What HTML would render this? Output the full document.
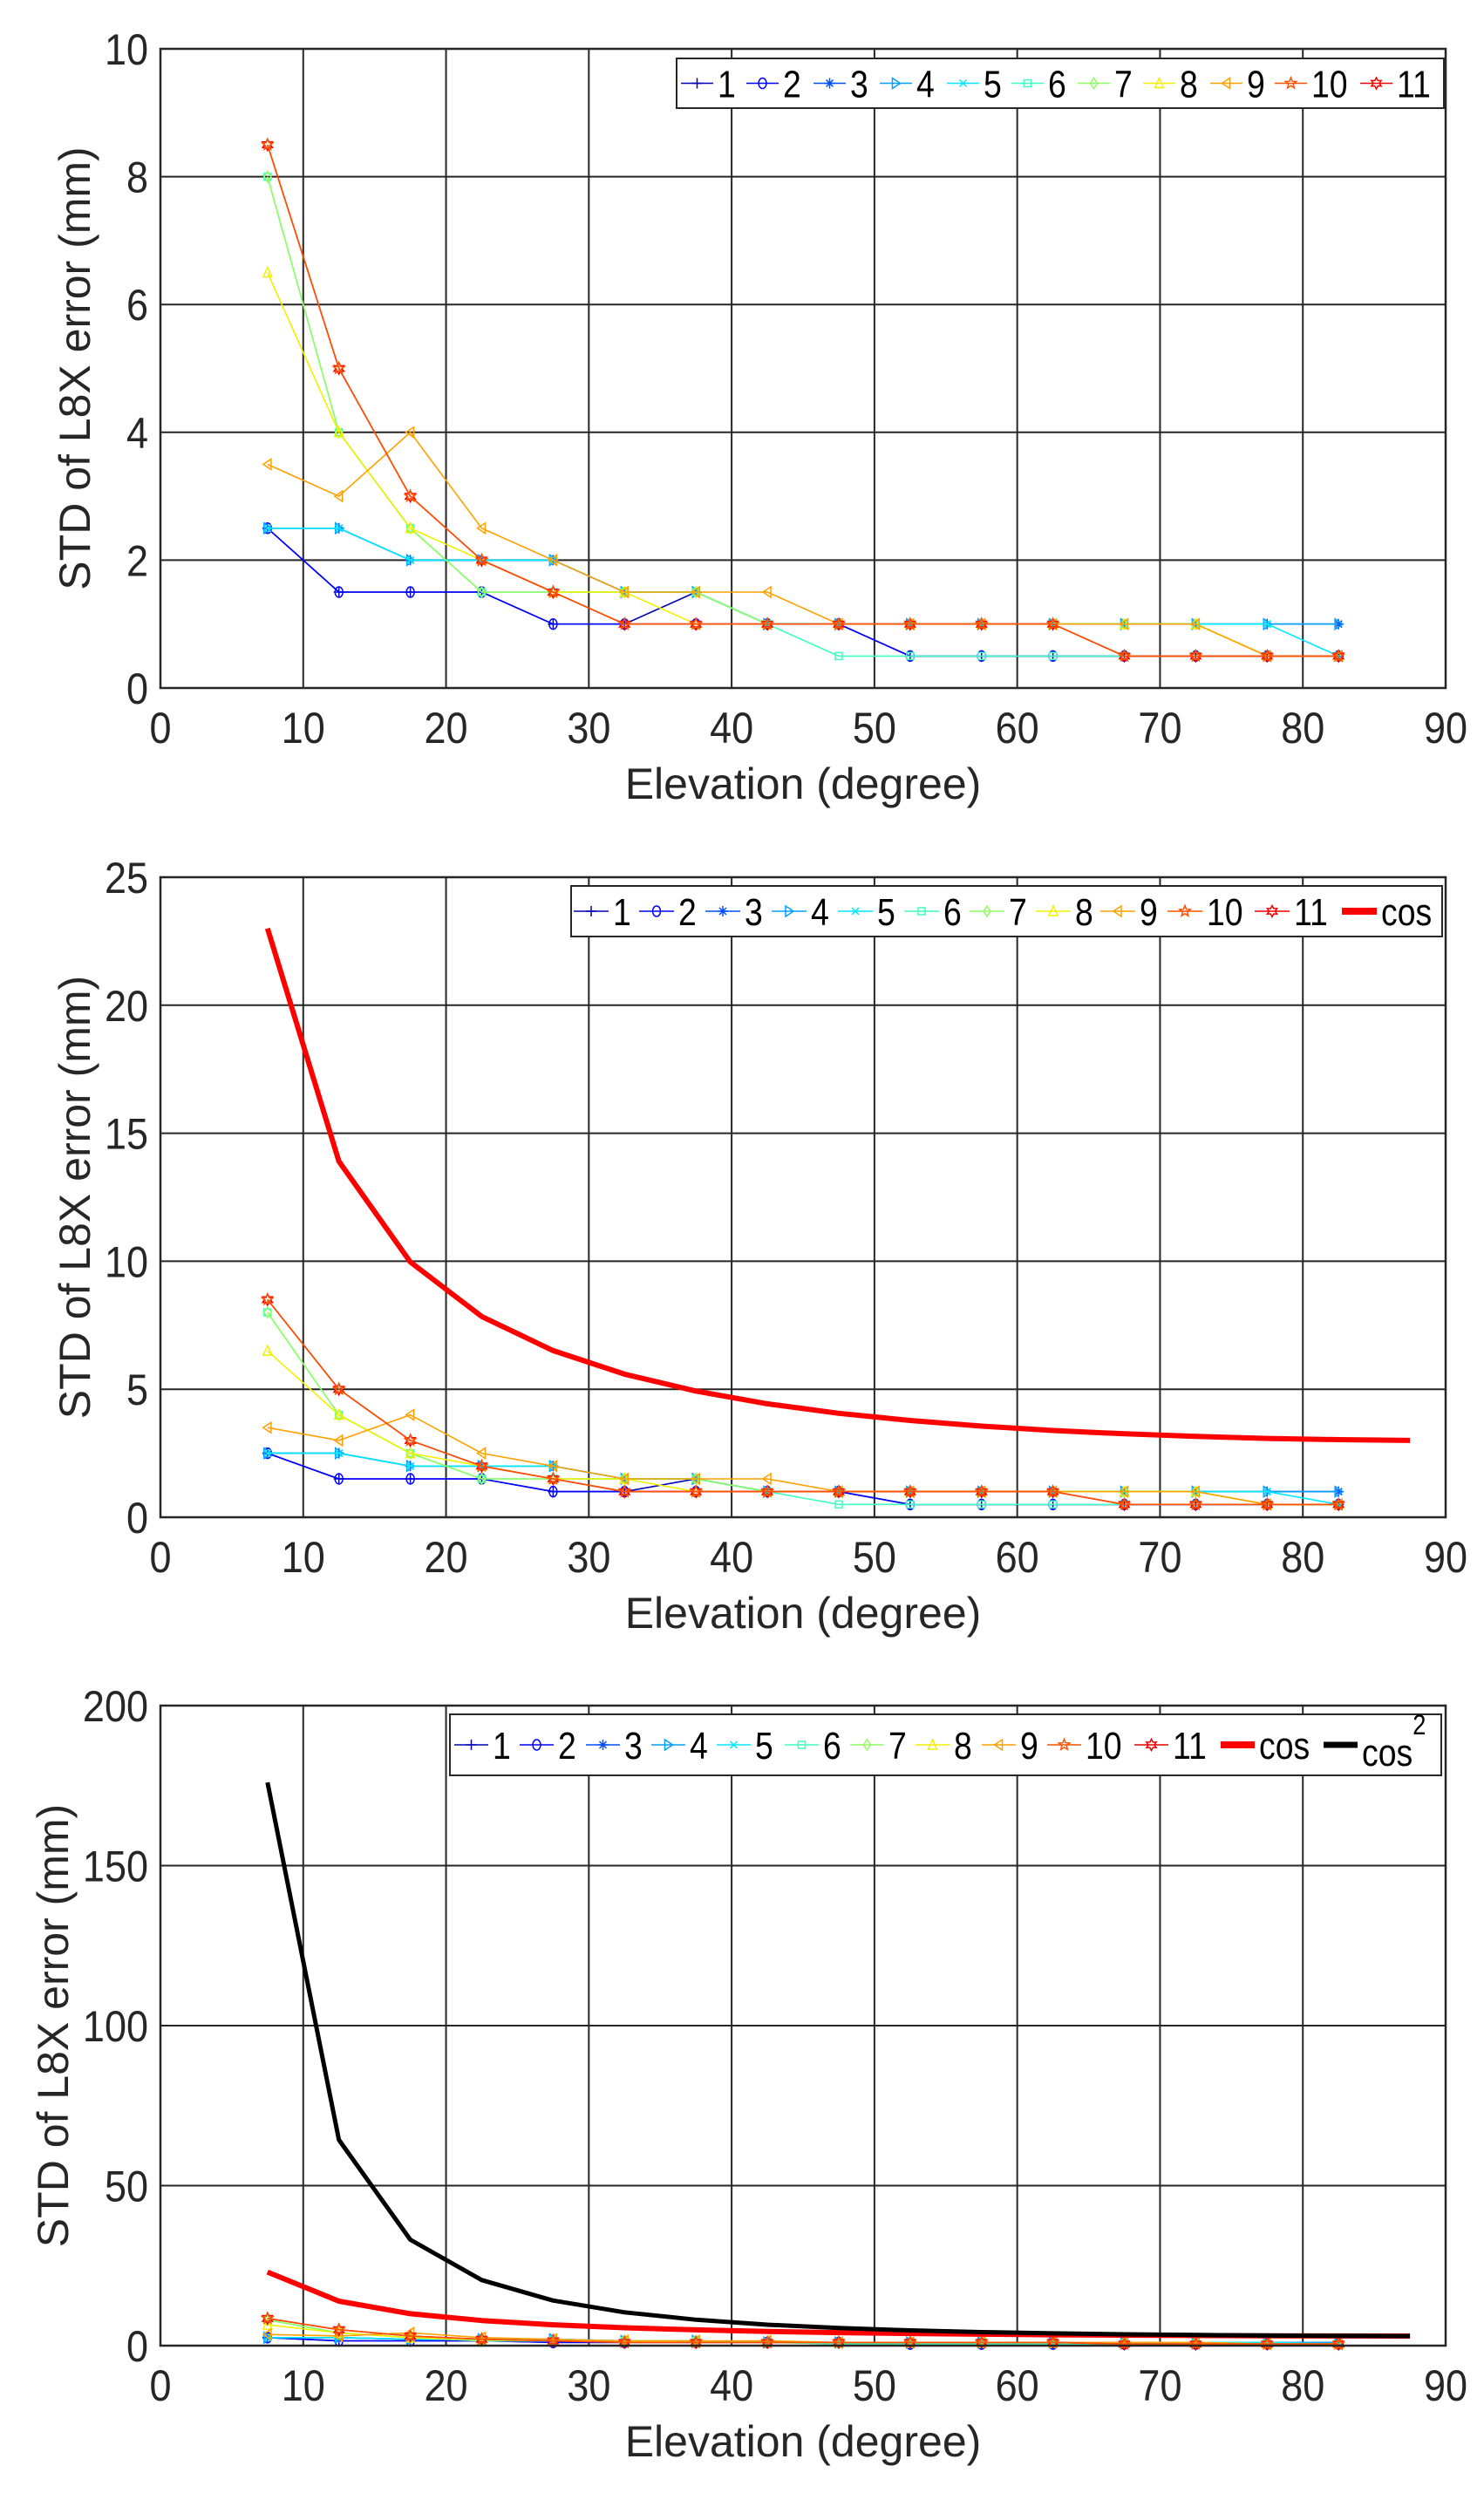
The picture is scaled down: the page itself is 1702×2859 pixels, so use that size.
<!DOCTYPE html>
<html><head><meta charset="utf-8"><title>STD of L8X error vs Elevation</title>
<style>
html,body{margin:0;padding:0;background:#fff;}
svg{display:block;font-family:"Liberation Sans",Arial,sans-serif;}
</style></head>
<body>
<svg id="fig" width="1702" height="2859" viewBox="0 0 1702 2859" xmlns="http://www.w3.org/2000/svg"></svg>
<script>
// ---- data ----
const elevations = [7.5,12.5,17.5,22.5,27.5,32.5,37.5,42.5,47.5,52.5,57.5,62.5,67.5,72.5,77.5,82.5];
const s1  = [2.5,1.5,1.5,1.5,1,1,1.5,1,1,0.5,0.5,0.5,0.5,0.5,0.5,0.5];
const s2  = [2.5,1.5,1.5,1.5,1,1,1,1,1,0.5,0.5,0.5,0.5,0.5,0.5,0.5];
const s3  = [2.5,2.5,2,2,2,1.5,1.5,1,1,1,1,1,1,1,1,1];
const s4  = [2.5,2.5,2,2,2,1.5,1.5,1,1,1,1,1,1,1,1,1];
const s5  = [2.5,2.5,2,2,2,1.5,1.5,1,1,1,1,1,1,1,1,0.5];
const s6  = [8,4,2.5,1.5,1.5,1.5,1.5,1,0.5,0.5,0.5,0.5,0.5,0.5,0.5,0.5];
const s7  = [8,4,2.5,1.5,1.5,1.5,1.5,1,1,1,1,1,1,1,0.5,0.5];
const s8  = [6.5,4,2.5,2,1.5,1.5,1,1,1,1,1,1,1,1,0.5,0.5];
const s9  = [3.5,3,4,2.5,2,1.5,1.5,1.5,1,1,1,1,1,1,0.5,0.5];
const s10 = [8.5,5,3,2,1.5,1,1,1,1,1,1,1,0.5,0.5,0.5,0.5];
const s11 = [8.5,5,3,2,1.5,1,1,1,1,1,1,1,0.5,0.5,0.5,0.5];
const seriesNames = ["1","2","3","4","5","6","7","8","9","10","11"];
const modelElev = [7.5,12.5,17.5,22.5,27.5,32.5,37.5,42.5,47.5,52.5,57.5,62.5,67.5,72.5,77.5,82.5,87.5];
const cosModel  = [23.0,13.9,9.97,7.84,6.51,5.59,4.93,4.43,4.06,3.78,3.56,3.39,3.26,3.16,3.08,3.03,3.00];
const cos2Model = [176,64.3,33.1,20.5,14.1,10.4,8.09,6.55,5.5,4.76,4.22,3.83,3.54,3.33,3.17,3.06,3.00];
const xTicks = [0,10,20,30,40,50,60,70,80,90];
const yTicks1 = [0,2,4,6,8,10];
const yTicks2 = [0,5,10,15,20,25];
const yTicks3 = [0,50,100,150,200];

const series = [s1,s2,s3,s4,s5,s6,s7,s8,s9,s10,s11];
const colors = ["#0000b4","#0000ff","#0050ff","#00a0ff","#00e8ff","#40ffbf","#90ff60","#f0f000","#ffa000","#ff5000","#ee0000"];
const markers = ["plus","circle","star","right","x","square","diamond","up","left","penta","hexa"];
const drawOrder = [0,1,2,3,4,5,6,7,8,10,9];

const NS="http://www.w3.org/2000/svg";
const svg=document.getElementById('fig');
function mk(tag,attrs,parent){const e=document.createElementNS(NS,tag);for(const k in attrs)e.setAttribute(k,attrs[k]);(parent||svg).appendChild(e);return e;}

const L=184, R=1658;
function xs(v){return L+(v/90)*(R-L);}

function drawMarker(g,type,cx,cy,col){
  const r=6;let e;
  if(type==="plus"){e=mk('path',{d:`M${cx-r} ${cy}H${cx+r}M${cx} ${cy-r}V${cy+r}`,stroke:col,'stroke-width':1.5,fill:'none'},g);}
  else if(type==="circle"){e=mk('ellipse',{cx,cy,rx:4.5,ry:6,stroke:col,'stroke-width':1.5,fill:'none'},g);}
  else if(type==="star"){e=mk('path',{d:`M${cx-r} ${cy}H${cx+r}M${cx} ${cy-r}V${cy+r}M${cx-4} ${cy-4}L${cx+4} ${cy+4}M${cx-4} ${cy+4}L${cx+4} ${cy-4}`,stroke:col,'stroke-width':1.5,fill:'none'},g);}
  else if(type==="x"){e=mk('path',{d:`M${cx-4} ${cy-4}L${cx+4} ${cy+4}M${cx-4} ${cy+4}L${cx+4} ${cy-4}`,stroke:col,'stroke-width':1.5,fill:'none'},g);}
  else if(type==="right"){e=mk('polygon',{points:`${cx-4},${cy-6} ${cx+5},${cy} ${cx-4},${cy+6}`,stroke:col,'stroke-width':1.5,fill:'none'},g);}
  else if(type==="left"){e=mk('polygon',{points:`${cx+4},${cy-6} ${cx-5},${cy} ${cx+4},${cy+6}`,stroke:col,'stroke-width':1.5,fill:'none'},g);}
  else if(type==="up"){e=mk('polygon',{points:`${cx},${cy-6} ${cx+5},${cy+5} ${cx-5},${cy+5}`,stroke:col,'stroke-width':1.5,fill:'none'},g);}
  else if(type==="square"){e=mk('rect',{x:cx-4,y:cy-4,width:8,height:8,stroke:col,'stroke-width':1.5,fill:'none'},g);}
  else if(type==="diamond"){e=mk('polygon',{points:`${cx},${cy-6} ${cx+4},${cy} ${cx},${cy+6} ${cx-4},${cy}`,stroke:col,'stroke-width':1.5,fill:'none'},g);}
  else if(type==="penta"){let p=[];for(let i=0;i<10;i++){const a=-Math.PI/2+i*Math.PI/5;const rr=i%2?2.8:6.5;p.push((cx+rr*Math.cos(a)).toFixed(1)+','+(cy+rr*Math.sin(a)).toFixed(1));}e=mk('polygon',{points:p.join(' '),stroke:col,'stroke-width':1.5,fill:'none'},g);}
  else {let p=[];for(let i=0;i<12;i++){const a=-Math.PI/2+i*Math.PI/6;const rr=i%2?3.5:6.5;p.push((cx+rr*Math.cos(a)).toFixed(1)+','+(cy+rr*Math.sin(a)).toFixed(1));}e=mk('polygon',{points:p.join(' '),stroke:col,'stroke-width':1.5,fill:'none'},g);}
  
  
}

function drawPlot(cfg){
  const T=cfg.top,B=cfg.bottom;
  const ys=v=>B-(v/cfg.ymax)*(B-T);
  const g=mk('g',{});
  
  
  const grid=mk('g',{},g);
  
  
  xTicks.forEach(t=>{if(t>0&&t<90)mk('line',{x1:xs(t),x2:xs(t),y1:T,y2:B,stroke:'#262626','stroke-width':2},grid);});
  cfg.yTicks.forEach(t=>{if(t>0&&t<cfg.ymax)mk('line',{x1:L,x2:R,y1:ys(t),y2:ys(t),stroke:'#262626','stroke-width':2},grid);});
  drawOrder.forEach(i=>{
    const s=series[i];
    const sg=mk('g',{},g);
    
    
    const pts=s.map((v,j)=>xs(elevations[j]).toFixed(1)+','+ys(v).toFixed(1)).join(' ');
    const pl=mk('polyline',{points:pts,stroke:colors[i],'stroke-width':1.6,fill:'none'},sg);
    
    
    s.forEach((v,j)=>drawMarker(sg,markers[i],xs(elevations[j]),ys(v),colors[i]));
  });
  if(cfg.cos){
    const pts=cosModel.map((v,j)=>xs(modelElev[j]).toFixed(1)+','+ys(v).toFixed(1)).join(' ');
    const c=mk('polyline',{points:pts,stroke:'#ff0000','stroke-width':6,fill:'none','stroke-linejoin':'round'},g);
    
    
  }
  if(cfg.cos2){
    const pts=cos2Model.map((v,j)=>xs(modelElev[j]).toFixed(1)+','+ys(v).toFixed(1)).join(' ');
    const c=mk('polyline',{points:pts,stroke:'#000','stroke-width':5,fill:'none','stroke-linejoin':'round'},g);
    
    
  }
  const box=mk('rect',{x:L,y:T,width:R-L,height:B-T,fill:'none',stroke:'#262626','stroke-width':2.5},g);
  
  
  xTicks.forEach(t=>{
    const e=mk('text',{x:0,y:0,'font-size':50,'text-anchor':'middle',fill:'#262626',transform:`translate(${xs(t)},${B+63}) scale(0.9,1)`},g);
    e.textContent=t;
    
    
  });
  cfg.yTicks.forEach(t=>{
    const e=mk('text',{x:0,y:0,'font-size':50,'text-anchor':'end',fill:'#262626',transform:`translate(170,${ys(t)+18}) scale(0.9,1)`},g);
    e.textContent=t;
    
    
  });
  const xl=mk('text',{x:(L+R)/2,y:B+127,'font-size':50,'text-anchor':'middle',fill:'#262626'},g);
  xl.textContent='Elevation (degree)';
  
  
  const yc=(T+B)/2;
  const yl=mk('text',{x:0,y:0,'font-size':50,'text-anchor':'middle',fill:'#262626',transform:`translate(${cfg.ylx+18},${yc}) rotate(-90)`},g);
  yl.textContent='STD of L8X error (mm)';
  
  
  const lg=mk('g',{},g);
  
  
  const lb=cfg.legend;
  mk('rect',{x:lb.x,y:lb.y,width:lb.w,height:lb.h,fill:'#fff',stroke:'#262626','stroke-width':2},lg);
  const my=lb.y+lb.h/2;
  lb.starts.forEach((sx,i)=>{
    const eg=mk('g',{},lg);
    
    
    let label,col,w;
    if(i<11){label=seriesNames[i];col=colors[i];w=1.6;}
    else if(i===11){label='cos';col='#ff0000';w=8;}
    else {label='cos';col='#000';w=7;}
    mk('line',{x1:sx,x2:sx+lb.len,y1:my,y2:my,stroke:col,'stroke-width':w},eg);
    if(i<11)drawMarker(eg,markers[i],sx+lb.len/2,my,col);
    const t=mk('text',{x:0,y:0,'font-size':44,fill:'#000',transform:`translate(${sx+lb.len+5},${my+(i===12?24:16)}) scale(0.85,1)`},eg);
    t.textContent=label;
    if(i===12){const sup=mk('tspan',{dy:-36,'font-size':32},t);sup.textContent='2';}
  });
}

drawPlot({name:'plot-std-only',top:56,bottom:789,ymax:10,yTicks:yTicks1,ylx:85,cos:false,cos2:false,
  legend:{x:776,y:67,w:880,h:57,len:37,starts:[781,856,933,1009,1086,1160,1236,1311,1388,1462,1560]}});
drawPlot({name:'plot-with-cos',top:1006,bottom:1740,ymax:25,yTicks:yTicks2,ylx:85,cos:true,cos2:false,
  legend:{x:655,y:1016,w:999,h:58,len:40,starts:[658,733,809,885,961,1037,1112,1188,1262,1339,1439,1539]}});
drawPlot({name:'plot-with-cos-cos2',top:1956,bottom:2690,ymax:200,yTicks:yTicks3,ylx:60,cos:true,cos2:true,
  legend:{x:516,y:1966,w:1137,h:70,len:39,starts:[521,596,672,747,822,900,975,1050,1126,1201,1301,1400,1518]}});
</script>
</body></html>
